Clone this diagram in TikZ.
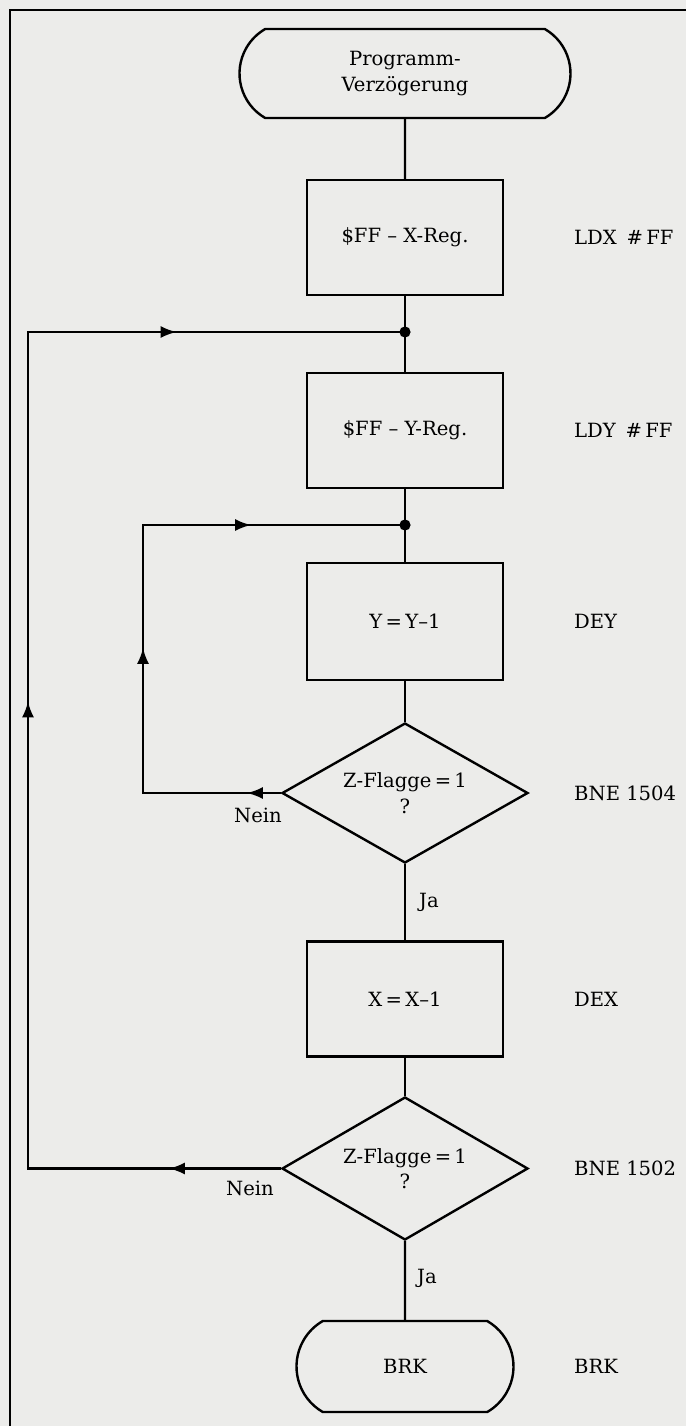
\documentclass[tikz,border=0pt]{standalone}
\usepackage{fontspec}
\setmainfont{DejaVu Serif}
\usetikzlibrary{shapes.geometric,shapes.misc,arrows.meta,decorations.markings}
\definecolor{papel}{RGB}{236,236,234}
\tikzset{
	caja/.style={draw, minimum width=98pt, minimum height=57.5pt, inner sep=0pt},
	terminal/.style={draw, rounded rectangle, rounded rectangle arc length=120, inner sep=0pt, align=center},
	decision/.style={draw, diamond, aspect=1.78, inner sep=0pt, minimum width=123pt, minimum height=70pt, align=center},
	etiqueta/.style={anchor=west, inner sep=0pt},
	flechas/.style n args={3}{postaction={decorate, decoration={markings,
		mark=at position #1 with {\arrow{Latex[length=8pt,width=6pt]}},
		mark=at position #2 with {\arrow{Latex[length=8pt,width=6pt]}},
		mark=at position #3 with {\arrow{Latex[length=8pt,width=6pt]}}}}},
}
\begin{document}
\begin{tikzpicture}[x=0.5pt, y=-0.5pt, line width=1.2pt, font=\fontsize{9.8}{12.8}\selectfont]
	\fill[papel] (0,0) rectangle (686,1426); % fondo
	\useasboundingbox (0,0) rectangle (686,1426);
	\draw[line width=1.3pt] (10,1426) -- (10,10) -- (686,10); % marco

	% columna principal
	\node[terminal, minimum width=165.5pt, minimum height=44.5pt] (inicio) at (405,73.5) {Programm-\\Verzögerung};
	\node[caja] (xreg) at (405,237.5) {\$FF -- X-Reg.};
	\node[caja] (yreg) at (405,430.5) {\$FF -- Y-Reg.};
	\node[caja, minimum height=58.5pt] (decy) at (405,621.5) {Y\,=\,Y--1};
	\node[decision] (d1) at (405,793) {Z-Flagge\,=\,1\\?};
	\node[caja] (decx) at (405,999) {X\,=\,X--1};
	\node[decision, minimum height=71.5pt] (d2) at (405,1168.5) {Z-Flagge\,=\,1\\?};
	\node[terminal, minimum width=108.5pt, minimum height=45.5pt] (fin) at (405,1366.5) {BRK};

	% puntos de union y esquinas
	\coordinate (j1) at (405,332);
	\coordinate (j2) at (405,525);
	\coordinate (izq1) at (143,525);
	\coordinate (izq2) at (28,332);
	\coordinate (der) at (573,0);

	\draw (inicio) -- (xreg);
	\draw (xreg) -- (yreg);
	\draw (yreg) -- (decy);
	\draw (decy) -- (d1);
	\draw (d1) -- (decx);
	\draw (decx) -- (d2);
	\draw (d2) -- (fin);
	\fill (j1) circle[radius=2.8pt];
	\fill (j2) circle[radius=2.8pt];

	% bucles
	\draw[flechas={17pt}{141.5pt}{257pt}] (d1.west) -- (d1.west -| izq1) -- (izq1) -- (j2);
	\draw[flechas={56pt}{360pt}{619pt}] (d2.west) -- (d2.west -| izq2) -- (izq2) -- (j1);

	% textos
	\node (nein1) at (258,815) {Nein};
	\node (nein2) at (250,1188) {Nein};
	\node[etiqueta] (ja1) at (418,902) {Ja};
	\node[etiqueta] (ja2) at (416,1278) {Ja};
	\node[etiqueta] (ldx) at (xreg.east -| der) {LDX\enspace\#\,FF};
	\node[etiqueta] (ldy) at (yreg.east -| der) {LDY\enspace\#\,FF};
	\node[etiqueta] (dey) at (decy.east -| der) {DEY};
	\node[etiqueta] (bne1) at (d1.east -| der) {BNE 1504};
	\node[etiqueta] (dex) at (decx.east -| der) {DEX};
	\node[etiqueta] (bne2) at (d2.east -| der) {BNE 1502};
	\node[etiqueta] (brk) at (fin.east -| der) {BRK};
\end{tikzpicture}
\end{document}
